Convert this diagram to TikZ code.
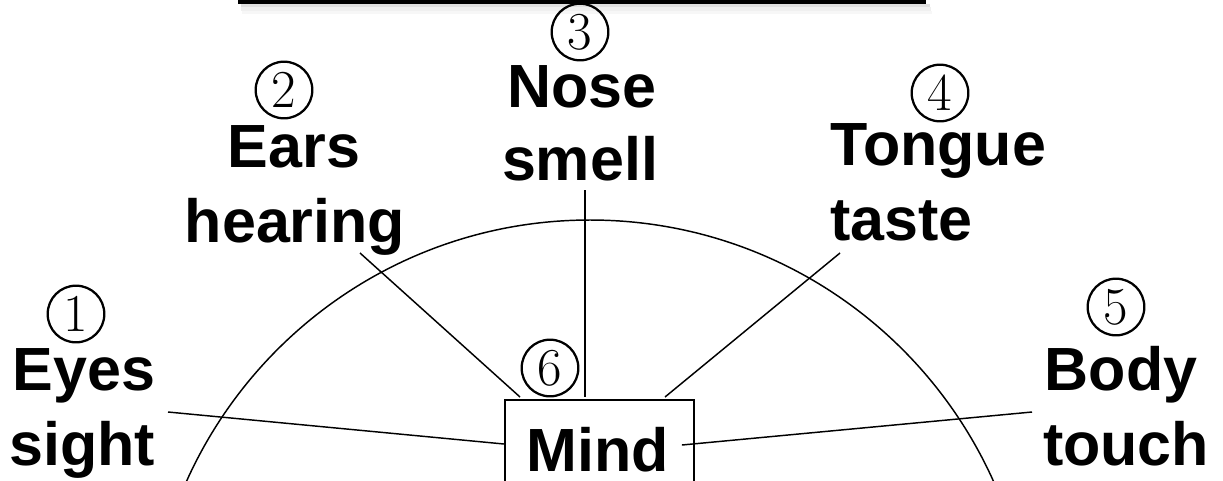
\documentclass[tikz,border=0pt]{standalone}
\usepackage{fontspec}
\newfontfamily\arial{Liberation Sans}
\usetikzlibrary{calc}
\tikzset{
  lbl/.style={font=\arial\bfseries\fontsize{45.75}{56}\selectfont, inner sep=0pt, anchor=base},
  num/.style={circle, draw, line width=1.7pt, minimum size=42.5pt, inner sep=0pt, font=\fontsize{40}{40}\selectfont},
  conn/.style={line width=1.1pt},
  boxstyle/.style={draw, line width=1.4pt, anchor=north west, minimum width=141.75pt, minimum height=90pt, inner sep=0pt},
}
\begin{document}
\begin{tikzpicture}[x=0.75pt,y=-0.75pt]
\useasboundingbox (0,0) rectangle (1223,480);
% title bar with soft shadow
\fill[black!12] (241,4) rectangle (930,7);
\fill[black!6] (241,7) rectangle (931,11);
\fill[black!3] (242,11) rectangle (932,14);
\fill[black] (238,-5) rectangle (926,4);
% arc
\begin{scope}
\clip (0,0) rectangle (1223,480);
\draw[conn] (590,662) circle[radius=331.5pt];
\end{scope}
% mind box
\node[boxstyle] (mind) at (504,399) {};
\node[lbl] (mindtxt) at (598,471) {Mind};
% labels
\node[num] (n1) at (76,314) {1};
\node[lbl] (eyes) at (84,390) {Eyes};
\node[lbl] (sight) at (82,465) {sight};
\node[num] (n2) at (284,90) {2};
\node[lbl] (ears) at (294,167) {Ears};
\node[lbl] (hearing) at (295,242) {hearing};
\node[num] (n3) at (580,32) {3};
\node[lbl] (nose) at (582,107) {Nose};
\node[lbl] (smell) at (580,180) {smell};
\node[num] (n4) at (940,93) {4};
\node[lbl, anchor=base west] (tongue) at (830,165) {Tongue};
\node[lbl, anchor=base west] (taste) at (830,240) {taste};
\node[num] (n5) at (1116,307) {5};
\node[lbl] (body) at (1121,390) {Body};
\node[lbl] (touch) at (1126,465) {touch};
\node[num] (n6) at (550,368) {6};
% connector ends
\coordinate (eyesEnd) at (168,412);
\coordinate (earsEnd) at (360,253);
\coordinate (noseEnd) at (585,190);
\coordinate (tongueEnd) at (840,253);
\coordinate (bodyEnd) at (1032,412);
\draw[conn] (eyesEnd) -- ($(mind.north west)+(0,45)$);
\draw[conn] (earsEnd) -- ($(mind.north west)+(16,-2)$);
\draw[conn] (noseEnd) -- ($(mind.north west)+(81,-2)$);
\draw[conn] (tongueEnd) -- ($(mind.north west)+(161,-2)$);
\draw[conn] (bodyEnd) -- ($(mind.north east)+(-13,46)$);
\end{tikzpicture}
\end{document}
